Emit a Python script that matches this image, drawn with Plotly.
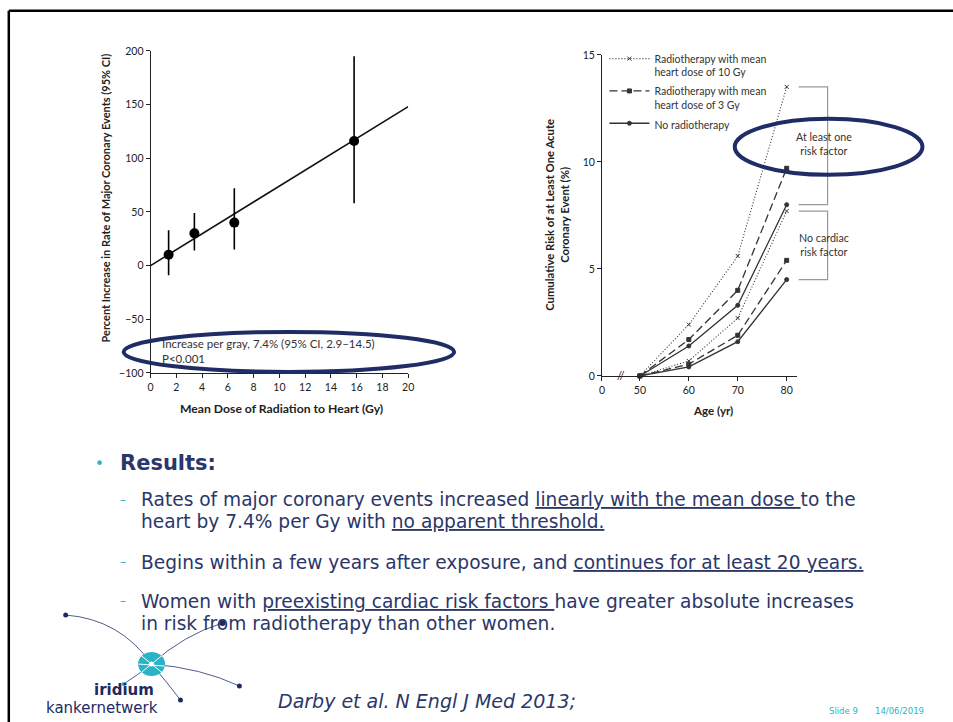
import plotly.graph_objects as go

W, H = 953, 722

# ---------------- data: left panel ----------------
dose_gy = [1.4, 3.4, 6.5, 15.8]
pct_increase = [10, 30, 40, 116]
ci_low = [-9, 14, 15, 58]
ci_high = [33, 49, 72, 195]
slope_per_gy = 7.4
fit_dose = [0, 20]
left_xticks = [0, 2, 4, 6, 8, 10, 12, 14, 16, 18, 20]
left_yticks = [-100, -50, 0, 50, 100, 150, 200]

# ---------------- data: right panel ----------------
age_yr = [50, 60, 70, 80]
risk_10gy = [0, 2.4, 5.6, 13.5]
risk_3gy = [0, 1.7, 4.0, 9.7]
risk_none = [0, 1.4, 3.3, 8.0]
norisk_10gy = [0, 0.7, 2.7, 7.7]
norisk_3gy = [0, 0.55, 1.9, 5.4]
norisk_none = [0, 0.42, 1.6, 4.5]
right_xtick_labels = ["0", "50", "60", "70", "80"]
right_yticks = [0, 5, 10, 15]
series_names = ["Radiotherapy with mean<br>heart dose of 10 Gy",
                "Radiotherapy with mean<br>heart dose of 3 Gy",
                "No radiotherapy"]

# pixel -> paper helpers (with a small correction for the capture's framing)
SX, OX, SY, OY = 0.992, 1.2, 0.983, 5.2


def px(x):
    return ((x - OX) / SX) / W


def py(y):
    return 1 - ((y - OY) / SY) / H


NAVY = "#2b3768"
TEAL = "#2ab3c6"
AX = "#222222"
FONT = "Lato"

fig = go.Figure()

# left panel
fig.add_trace(go.Scatter(
    x=fit_dose, y=[slope_per_gy * d for d in fit_dose], mode="lines",
    line=dict(color="#111111", width=1.6), xaxis="x", yaxis="y",
    showlegend=False, hoverinfo="skip"))
fig.add_trace(go.Scatter(
    x=dose_gy, y=pct_increase, mode="markers",
    marker=dict(color="black", size=10),
    error_y=dict(type="data", symmetric=False,
                 array=[h - v for h, v in zip(ci_high, pct_increase)],
                 arrayminus=[v - l for v, l in zip(pct_increase, ci_low)],
                 color="black", thickness=1.6, width=0),
    xaxis="x", yaxis="y", showlegend=False, cliponaxis=False))

# right panel
styles = [
    dict(dash="1px,2px", width=1.1, symbol="x-thin", size=4),
    dict(dash="8px,4px", width=1.3, symbol="square", size=4),
    dict(dash="solid", width=1.3, symbol="circle", size=4),
]
groups = [(risk_10gy, norisk_10gy), (risk_3gy, norisk_3gy), (risk_none, norisk_none)]
for i, (st, (r, n)) in enumerate(zip(styles, groups)):
    for j, ys in enumerate([r, n]):
        fig.add_trace(go.Scatter(
            x=age_yr, y=ys, mode="lines+markers", name=series_names[i],
            legendgroup=str(i), showlegend=(j == 0),
            line=dict(color="#333333", width=st["width"], dash=st["dash"]),
            marker=dict(symbol=st["symbol"], size=st["size"], color="#333333",
                        line=dict(color="#333333", width=1)),
            xaxis="x2", yaxis="y2", cliponaxis=False))

break_pos = 42.24
axis_common = dict(showgrid=False, zeroline=False, showline=True, linecolor=AX,
                   linewidth=1, ticks="outside", ticklen=4, tickcolor=AX,
                   tickfont=dict(family=FONT, size=10.5, color=AX))

fig.update_layout(
    width=W, height=H, margin=dict(l=0, r=0, t=0, b=0),
    paper_bgcolor="white", plot_bgcolor="white",
    xaxis=dict(domain=[px(149), px(407)], range=[0, 20], tickvals=left_xticks,
               anchor="y", **axis_common),
    yaxis=dict(domain=[py(372), py(50)], range=[-100, 200], tickvals=left_yticks,
               anchor="x", **axis_common),
    xaxis2=dict(domain=[px(601), px(796)], range=[break_pos, 82.04],
                tickvals=[break_pos] + age_yr, ticktext=right_xtick_labels,
                anchor="y2", **axis_common),
    yaxis2=dict(domain=[py(375), py(54)], range=[0, 15], tickvals=right_yticks,
                anchor="x2", **axis_common),
    legend=dict(x=px(603.5), y=py(44.5), xanchor="left", yanchor="top",
                bgcolor="rgba(0,0,0,0)", valign="top",
                font=dict(family=FONT, size=10.5, color="#333333"),
                tracegroupgap=2, itemwidth=40),
    showlegend=True,
)


def A(text, x, y, xref="paper", yref="paper", xa="center", ya="middle", **kw):
    d = dict(text=text, x=x, y=y, xref=xref, yref=yref, xanchor=xa, yanchor=ya,
             showarrow=False)
    d.update(kw)
    return d


ann = []
# axis titles
ann.append(A("<b>Percent Increase in Rate of Major Coronary Events (95% CI)</b>",
             px(104), py(197), textangle=-90, font=dict(family=FONT, size=11, color=AX)))
ann.append(A("<b>Mean Dose of Radiation to Heart (Gy)</b>", px(280), py(408),
             font=dict(family=FONT, size=12.2, color=AX)))
ann.append(A("<b>Cumulative Risk of at Least One Acute<br>Coronary Event (%)</b>",
             px(556), py(214), textangle=-90, font=dict(family=FONT, size=11.3, color=AX)))
ann.append(A("<b>Age (yr)</b>", px(712), py(410), font=dict(family=FONT, size=11.5, color=AX)))
# left panel notes
ann.append(A("Increase per gray, 7.4% (95% CI, 2.9\u201314.5)", 0.7, -73, "x", "y", xa="left",
             font=dict(family=FONT, size=11.5, color="#333333")))
ann.append(A("P<0.001", 0.7, -87, "x", "y", xa="left",
             font=dict(family=FONT, size=11.5, color="#333333")))
# axis break
ann.append(A("//", 46.2, 0, "x2", "y2", font=dict(family=FONT, size=11, color=AX)))
# bracket labels
ann.append(A("At least one<br>risk factor", px(823), 10.85, "paper", "y2",
             font=dict(family=FONT, size=10.7, color="#333333")))
ann.append(A("No cardiac<br>risk factor", px(823), 6.15, "paper", "y2",
             font=dict(family=FONT, size=10.7, color="#333333")))

# slide text
TXT = "DejaVu Sans"
ann.append(A("\u2022", px(91), py(463), xa="left", font=dict(family=TXT, size=15, color=TEAL)))
ann.append(A("<b>Results:</b>", px(116), py(462), xa="left",
             font=dict(family=TXT, size=21, color=NAVY)))
lines = [
    (499, True, "Rates of major coronary events increased <u>linearly with the mean dose </u>to the"),
    (521, False, "heart by 7.4% per Gy with <u>no apparent threshold.</u>"),
    (561, True, "Begins within a few years after exposure, and <u>continues for at least 20 years.</u>"),
    (600, True, "Women with <u>preexisting cardiac risk factors </u>have greater absolute increases"),
    (622, False, "in risk from radiotherapy than other women."),
]
for yy, dash, t in lines:
    if dash:
        ann.append(A("\u2013", px(116), py(yy), xa="left",
                     font=dict(family=TXT, size=12, color=TEAL)))
    ann.append(A(t, px(137), py(yy), xa="left", font=dict(family=TXT, size=18.6, color=NAVY)))
ann.append(A("<i>Darby et al. N Engl J Med 2013;</i>", px(275), py(700), xa="left",
             font=dict(family=TXT, size=19, color=NAVY)))
ann.append(A("Slide 9", px(826), py(710), xa="left", font=dict(family=TXT, size=8.5, color=TEAL)))
ann.append(A("14/06/2019", px(872), py(710), xa="left",
             font=dict(family=TXT, size=8.5, color=TEAL)))
# logo text
ann.append(A("<b>iridium</b>", px(122), py(689), font=dict(family=TXT, size=15, color="#1d2a5e")))
ann.append(A("kankernetwerk", px(100), py(707), font=dict(family=TXT, size=15, color="#1d2a5e")))

shapes = []
# slide frame
shapes.append(dict(type="line", xref="paper", yref="paper", x0=px(7), x1=px(960),
                   y0=py(10), y1=py(10), line=dict(color="black", width=2.5)))
shapes.append(dict(type="line", xref="paper", yref="paper", x0=px(7), x1=px(7),
                   y0=py(10), y1=py(730), line=dict(color="black", width=2.5)))
# brackets (tied to series end values)
bx0, bx1 = px(798), px(827)
for top, bot in [(risk_10gy[-1], risk_none[-1]), (norisk_10gy[-1], norisk_none[-1])]:
    shapes.append(dict(type="path", xref="paper", yref="y2",
                       path=f"M {bx0},{top} L {bx1},{top} L {bx1},{bot} L {bx0},{bot}",
                       line=dict(color="#999999", width=1.2)))
# highlight ellipses
shapes.append(dict(type="circle", xref="paper", yref="paper", x0=px(122), x1=px(453),
                   y0=py(371), y1=py(331), line=dict(color="#1f2c66", width=4)))
shapes.append(dict(type="circle", xref="paper", yref="paper", x0=px(734), x1=px(922),
                   y0=py(174), y1=py(118), line=dict(color="#1f2c66", width=4)))


# logo
def qpath(p0, c, p1):
    return (f"M {px(p0[0])},{py(p0[1])} Q {px(c[0])},{py(c[1])} "
            f"{px(p1[0])},{py(p1[1])}")


cen = (150, 663)
for p0, c, p1 in [((64, 614), (118, 618), cen), (cen, (182, 634), (221, 622)),
                  (cen, (200, 667), (238, 685)), (cen, (166, 682), (179, 699)),
                  (cen, (136, 674), (122, 683))]:
    shapes.append(dict(type="path", xref="paper", yref="paper", path=qpath(p0, c, p1),
                       line=dict(color="#3a4a80", width=0.9)))
shapes.append(dict(type="circle", xref="paper", yref="paper", x0=px(136.5), x1=px(163.5),
                   y0=py(675), y1=py(651), fillcolor=TEAL, line=dict(width=0)))
for a, b in [((139, 654), (161, 672)), ((161, 654), (139, 672)), ((137, 663), (163, 665))]:
    shapes.append(dict(type="line", xref="paper", yref="paper", x0=px(a[0]), y0=py(a[1]),
                       x1=px(b[0]), y1=py(b[1]), line=dict(color="white", width=1)))
shapes.append(dict(type="circle", xref="paper", yref="paper", x0=px(147.5), x1=px(152.5),
                   y0=py(665.5), y1=py(660.5), fillcolor="white", line=dict(width=0)))
for (dx, dy), col, r in [((64, 614), "#1d2a5e", 2.5), ((221, 622), "#1d2a5e", 3),
                         ((238, 685), "#1d2a5e", 2.5), ((179, 699), "#1d2a5e", 2.5),
                         ((122, 683), TEAL, 2)]:
    shapes.append(dict(type="circle", xref="paper", yref="paper", x0=px(dx - r),
                       x1=px(dx + r), y0=py(dy + r), y1=py(dy - r), fillcolor=col,
                       line=dict(width=0)))

fig.update_layout(annotations=ann, shapes=shapes)
fig.write_html(
    "out.html",
    config={"displayModeBar": False},
    post_script=("document.documentElement.style.margin='0px';"
                 "document.body.style.margin='0px';"
                 "document.documentElement.style.overflow='hidden';"
                 "document.body.style.overflow='hidden';"))
